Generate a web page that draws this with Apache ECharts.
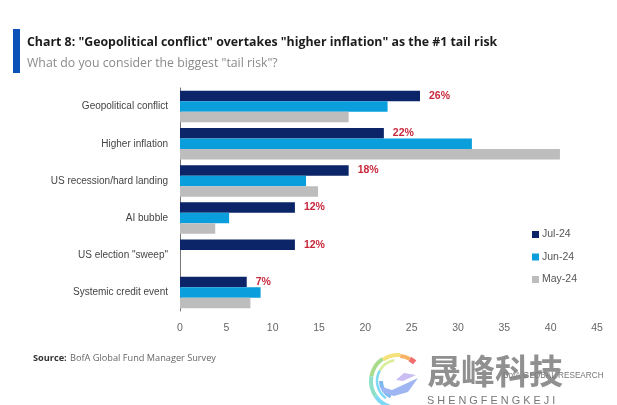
<!DOCTYPE html>
<html>
  <head>
    <meta charset="UTF-8" />
    <title>Chart 8</title>
    <style>
      html, body { margin: 0; padding: 0; background: #fff; }
      #chart { width: 617px; height: 405px; filter: blur(0.4px); }
    </style>
    <script src="https://cdn.jsdelivr.net/npm/echarts@6/dist/echarts.min.js"></script>
  </head>
  <body>
    <div id="chart"></div>
    <script type="text/javascript">
      var categories = [
        "Geopolitical conflict",
        "Higher inflation",
        "US recession/hard landing",
        "AI bubble",
        'US election "sweep"',
        "Systemic credit event",
      ];
      var jul24 = [25.9, 22, 18.2, 12.4, 12.4, 7.2];
      var jun24 = [22.4, 31.5, 13.6, 5.3, null, 8.7];
      var may24 = [18.2, 41, 14.9, 3.8, null, 7.6];
      var julLabels = ["26%", "22%", "18%", "12%", "12%", "7%"];
      var xTicks = [0, 45, 5];

      var myChart = echarts.init(document.getElementById("chart"));

      var sans = '"Liberation Sans", Arial, sans-serif';
      var head = '"Open Sans", "Noto Sans", sans-serif';

      function barSeries(name, color, values) {
        return {
          name: name,
          type: "bar",
          data: values,
          barWidth: 10.5,
          barGap: 0,
          itemStyle: { color: color },
        };
      }

      // logo swoosh, one arc per colour
      function logoArc(color, r, from, to, width) {
        return {
          type: "arc",
          shape: { cx: 398, cy: 381, r: r, startAngle: (from * Math.PI) / 180, endAngle: (to * Math.PI) / 180, clockwise: true },
          style: { stroke: color, lineWidth: width, fill: null },
        };
      }

      var julSeries = barSeries("Jul-24", "#0b2568", jul24);
      julSeries.label = {
        show: true,
        position: "right",
        distance: 9,
        color: "#c8283c",
        fontFamily: sans,
        fontWeight: "bold",
        fontSize: 10.5,
        formatter: function (p) {
          return julLabels[p.dataIndex];
        },
      };

      var option = {
        animation: false,
        backgroundColor: "#fff",
        grid: { left: 180, right: 20, top: 88, bottom: 94 },
        legend: {
          orient: "vertical",
          left: 527,
          top: 224,
          itemWidth: 7,
          itemHeight: 7,
          itemGap: 11.5,
          icon: "rect",
          selectedMode: false,
          textStyle: { color: "#555", fontFamily: sans, fontSize: 10.5, padding: [0, 0, 0, -2] },
          data: ["Jul-24", "Jun-24", "May-24"],
        },
        xAxis: {
          type: "value",
          min: xTicks[0],
          max: xTicks[1],
          interval: xTicks[2],
          splitLine: { show: false },
          axisLine: { show: false },
          axisTick: { show: false },
          axisLabel: { color: "#666", fontFamily: sans, fontSize: 10.5, margin: 12 },
        },
        yAxis: {
          type: "category",
          inverse: true,
          data: categories,
          axisTick: { show: false },
          axisLine: { lineStyle: { color: "#777", width: 1 } },
          axisLabel: { color: "#444", fontFamily: sans, fontSize: 10, margin: 12 },
        },
        series: [julSeries, barSeries("Jun-24", "#0a9fdc", jun24), barSeries("May-24", "#bdbdbd", may24)],
        graphic: [
          { type: "rect", shape: { x: 13, y: 29, width: 7, height: 44 }, style: { fill: "#0a52b8" } },
          {
            type: "text",
            x: 27,
            y: 36,
            style: { text: 'Chart 8: "Geopolitical conflict" overtakes "higher inflation" as the #1 tail risk', fill: "#1c1c1c", font: "bold 12.35px " + head },
          },
          {
            type: "text",
            x: 27,
            y: 57,
            style: { text: 'What do you consider the biggest "tail risk"?', fill: "#8a8a8a", font: "12.3px " + head },
          },
          {
            type: "text",
            x: 33,
            y: 352,
            style: { rich: { b: { font: "bold 9.2px " + head, fill: "#333" }, n: { font: "9.2px " + head, fill: "#666" } }, text: "{b|Source:} {n|BofA Global Fund Manager Survey}" },
          },
          {
            type: "text",
            x: 503,
            y: 372,
            style: { text: "BofA GLOBAL RESEARCH", fill: "#777", font: "8.2px " + sans },
          },
          {
            type: "text",
            x: 427,
            y: 354,
            style: { text: "晟峰科技", fill: "rgba(125,125,125,0.85)", font: 'bold 34px "Noto Sans CJK SC"' },
          },
          {
            type: "text",
            x: 427,
            y: 395,
            style: { text: "S H E N G F E N G K E J I", fill: "#777", font: "10.9px " + sans },
          },
          logoArc("#f26d6d", 25, -62, -48, 5),
          logoArc("#f7b267", 25, -85, -62, 4),
          logoArc("#f5e27a", 26, -125, -85, 4),
          logoArc("#a8dc8c", 27, -170, -125, 4),
          logoArc("#8fe0c8", 27, -215, -170, 4),
          logoArc("#7fd8f5", 27, -255, -215, 4),
          logoArc("#d8ee9a", 21, -150, -100, 2.5),
          logoArc("#7fd8f5", 21, -235, -150, 2.5),
          logoArc("#7fb8f0", 17, -245, -180, 4),
          {
            type: "polygon",
            shape: { points: [[379, 386], [392, 390], [418, 378], [408, 392], [394, 396], [384, 393]] },
            style: { fill: "#9fb6f2" },
          },
          {
            type: "polygon",
            shape: { points: [[396, 380], [404, 373], [416, 375], [403, 381]] },
            style: { fill: "#c9bdf2" },
          },
        ],
      };

      myChart.setOption(option);
    </script>
  </body>
</html>
